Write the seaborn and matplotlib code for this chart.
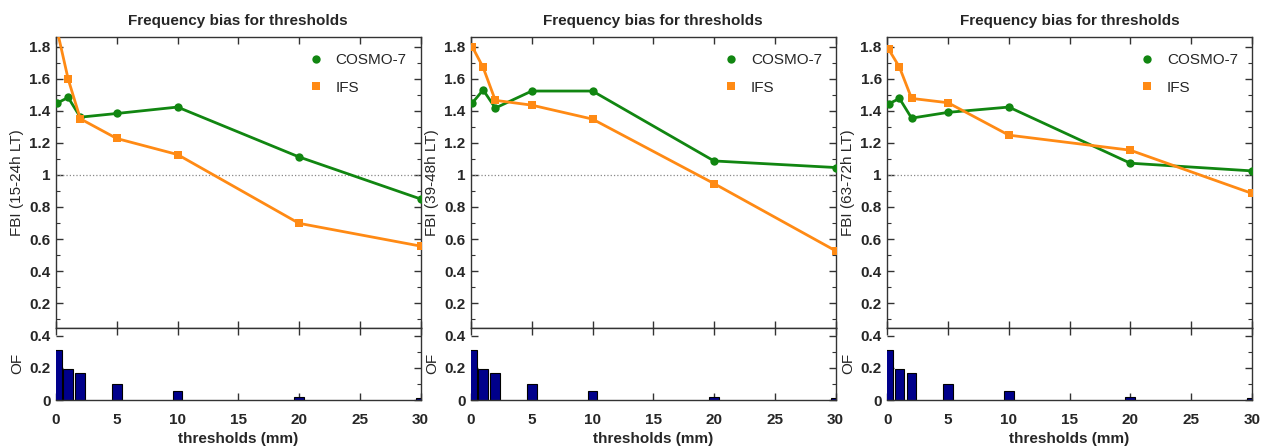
import numpy as np
import pandas as pd
import matplotlib
matplotlib.use("Agg")
import matplotlib.pyplot as plt
from matplotlib.lines import Line2D
from matplotlib.ticker import MultipleLocator
import seaborn as sns

sns.set_style("ticks")
plt.rcParams['font.family'] = ['Liberation Sans', 'DejaVu Sans']

thresholds = [0.1, 1, 2, 5, 10, 20, 30]
of_values = [0.31, 0.195, 0.17, 0.10, 0.055, 0.02, 0.01]

cosmo_p1 = [1.448, 1.483, 1.36, 1.383, 1.423, 1.112, 0.85]
ifs_p1 = [1.90, 1.598, 1.35, 1.227, 1.127, 0.698, 0.556]
cosmo_p2 = [1.448, 1.53, 1.417, 1.523, 1.523, 1.087, 1.046]
ifs_p2 = [1.80, 1.67, 1.465, 1.435, 1.348, 0.946, 0.527]
cosmo_p3 = [1.442, 1.477, 1.354, 1.39, 1.423, 1.073, 1.025]
ifs_p3 = [1.785, 1.672, 1.477, 1.45, 1.248, 1.154, 0.885]

ylabels = ["FBI (15-24h LT)", "FBI (39-48h LT)", "FBI (63-72h LT)"]
title = "Frequency bias for thresholds"
models = ["COSMO-7", "IFS"]
colors = {"COSMO-7": "#118611", "IFS": "#ff8a14"}
markers = {"COSMO-7": "o", "IFS": "s"}

panels = [(cosmo_p1, ifs_p1), (cosmo_p2, ifs_p2), (cosmo_p3, ifs_p3)]

fig = plt.figure(figsize=(12.68, 4.47), dpi=100)
W, H = 1268, 447
lefts = [56, 471, 887.3]
axw = 364.5
main_top, main_bot, bar_bot = 37, 327.7, 400

tickfont = dict(fontsize=11, fontweight='bold')

for i, (cos, ifs) in enumerate(panels):
    l = lefts[i] / W
    w = axw / W
    ax = fig.add_axes([l, 1 - main_bot / H, w, (main_bot - main_top) / H])
    axb = fig.add_axes([l, 1 - bar_bot / H, w, (bar_bot - main_bot) / H])

    df = pd.DataFrame({
        "threshold": thresholds * 2,
        "FBI": cos + ifs,
        "model": ["COSMO-7"] * len(thresholds) + ["IFS"] * len(thresholds),
    })
    ax.axhline(1.0, color='#888888', ls=':', lw=0.9, zorder=1)
    sns.lineplot(data=df, x="threshold", y="FBI", hue="model", style="model",
                 markers=markers, dashes=False, palette=colors, ax=ax,
                 legend=False, lw=2, markersize=6, markeredgewidth=0, zorder=3)
    ax.set_xlim(0, 30)
    ax.set_ylim(0.047, 1.86)
    ax.yaxis.set_minor_locator(MultipleLocator(0.1))
    ax.xaxis.set_major_locator(MultipleLocator(5))
    ax.set_yticks([0.2, 0.4, 0.6, 0.8, 1.0, 1.2, 1.4, 1.6, 1.8])
    ax.set_yticklabels(["0.2", "0.4", "0.6", "0.8", "1", "1.2", "1.4", "1.6", "1.8"], **tickfont)
    ax.tick_params(axis='both', which='both', direction='in', top=True, right=True,
                   color='#333333')
    ax.tick_params(axis='both', which='major', length=5, width=1)
    ax.tick_params(axis='both', which='minor', length=3, width=0.8)
    ax.tick_params(axis='x', labelbottom=False)
    ax.tick_params(axis='y', pad=4)
    ax.set_xlabel("")
    ax.set_ylabel(ylabels[i], fontsize=11)
    ax.yaxis.set_label_coords(-0.088, 0.5)
    ax.set_title(title, fontsize=11, fontweight='bold', pad=9)
    for s in ax.spines.values():
        s.set_color('#333333')
        s.set_linewidth(1)

    handles = [Line2D([], [], ls='none', marker=markers[m], color=colors[m],
                      markersize=6, markeredgewidth=0) for m in models]
    ax.legend(handles, models, loc='upper right', frameon=False, fontsize=11,
              handlelength=1.0, handletextpad=0.8, labelspacing=0.9,
              bbox_to_anchor=(1.0, 0.992))

    dfb = pd.DataFrame({"threshold": thresholds, "OF": of_values})
    sns.barplot(data=dfb, x="threshold", y="OF", native_scale=True, width=0.89,
                color="#00008b", edgecolor="black", linewidth=0.8, saturation=1,
                ax=axb, zorder=2)
    axb.set_xlim(0, 30)
    axb.set_ylim(0, 0.45)
    axb.set_yticks([0, 0.2, 0.4])
    axb.set_yticklabels(["0", "0.2", "0.4"], **tickfont)
    axb.yaxis.set_minor_locator(MultipleLocator(0.1))
    axb.set_xticks([0, 5, 10, 15, 20, 25, 30])
    axb.set_xticklabels(["0", "5", "10", "15", "20", "25", "30"], **tickfont)
    axb.tick_params(axis='both', which='both', direction='in', top=True, right=True,
                    color='#333333')
    axb.tick_params(axis='both', which='major', length=5, width=1)
    axb.tick_params(axis='both', which='minor', length=3, width=0.8)
    axb.tick_params(axis='x', pad=9)
    axb.tick_params(axis='y', pad=4)
    axb.set_xlabel("thresholds (mm)", fontsize=11, fontweight='bold', labelpad=4)
    axb.set_ylabel("OF", fontsize=11)
    axb.yaxis.set_label_coords(-0.088, 0.5)
    for s in axb.spines.values():
        s.set_color('#333333')
        s.set_linewidth(1)
    axb.spines['left'].set_visible(False)

fig.savefig("out.png", dpi=100)
